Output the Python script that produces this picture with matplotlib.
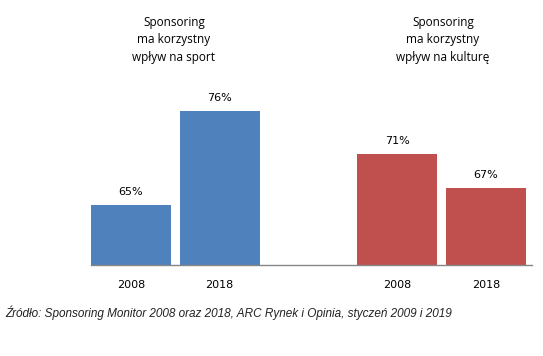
import matplotlib
matplotlib.use("Agg")
import matplotlib.pyplot as plt

years = ["2008", "2018", "2008", "2018"]
values = [65, 76, 71, 67]
labels = ["65%", "76%", "71%", "67%"]
groups = ["Sponsoring\nma korzystny\nwpływ na sport", "Sponsoring\nma korzystny\nwpływ na kulturę"]
colors = ["#4F81BD", "#4F81BD", "#C0504D", "#C0504D"]
source = "Źródło: Sponsoring Monitor 2008 oraz 2018, ARC Rynek i Opinia, styczeń 2009 i 2019"

positions = [0, 1, 3, 4]
base = 58

fig = plt.figure(figsize=(5.43, 3.56), dpi=100)
W, H = 543, 356
ax = fig.add_axes([91 / W, 1 - 265 / H, (532 - 91) / W, (265 - 77) / H])
ax.bar(positions, [v - base for v in values], bottom=base, width=0.9, color=colors)
ax.set_xlim(-0.45, 4.52)
ax.set_ylim(base, 80)
for s in ["top", "right", "left"]:
    ax.spines[s].set_visible(False)
ax.spines["bottom"].set_color("#868686")
ax.spines["bottom"].set_linewidth(1.0)
ax.set_yticks([])
ax.set_xticks(positions)
ax.set_xticklabels(years, fontsize=8, family="DejaVu Sans")
ax.tick_params(axis="x", length=0, pad=10.5)
for p, v, l in zip(positions, values, labels):
    ax.annotate(l, (p, v), xytext=(0, 6), textcoords="offset points", ha="center",
                va="bottom", fontsize=8, family="DejaVu Sans")

fig.text(174 / W, 1 - 40 / H, groups[0], ha="center", va="center", fontsize=8.5,
         family="Open Sans", linespacing=1.45)
fig.text(443 / W, 1 - 40 / H, groups[1], ha="center", va="center", fontsize=8.5,
         family="Open Sans", linespacing=1.45)
fig.text(5 / W, 1 - 313 / H, source, ha="left", va="center", fontsize=8.5,
         family="Liberation Sans", style="italic", color="#222222")

fig.savefig("out.png", dpi=100)
